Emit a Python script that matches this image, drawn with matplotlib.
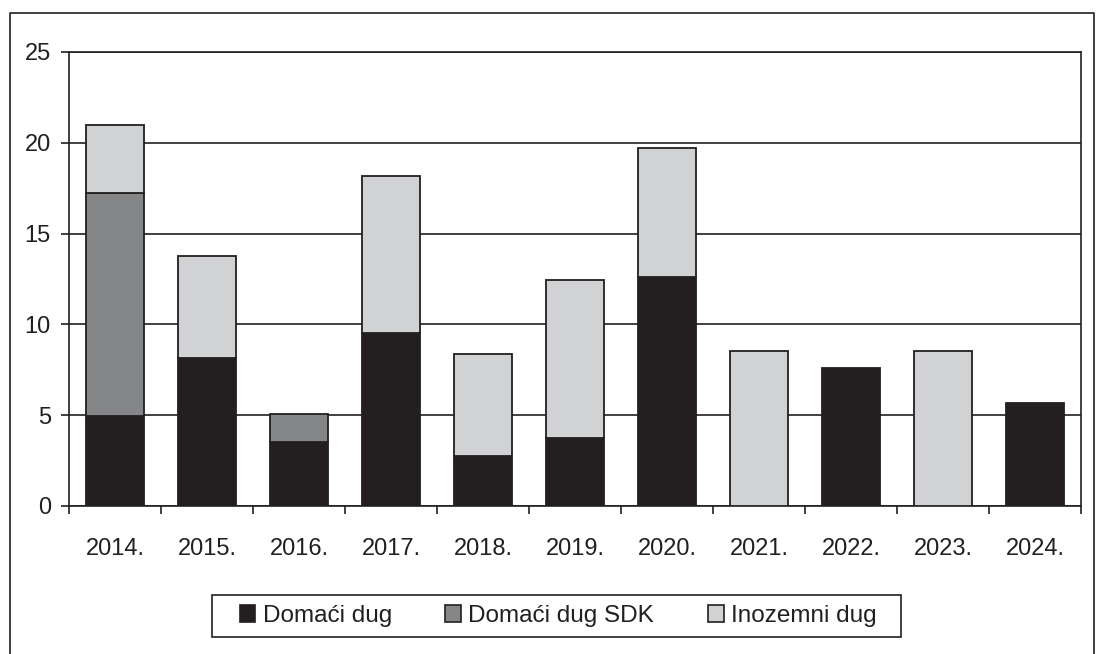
import matplotlib
matplotlib.use("Agg")
import matplotlib.pyplot as plt
from matplotlib.patches import Patch, Rectangle
from matplotlib.lines import Line2D
import numpy as np

years = ["2014.", "2015.", "2016.", "2017.", "2018.", "2019.", "2020.",
         "2021.", "2022.", "2023.", "2024."]
domaci_dug = [4.95, 8.15, 3.5, 9.5, 2.75, 3.75, 12.6, 0.0, 7.6, 0.0, 5.65]
domaci_dug_sdk = [12.28, 0.0, 1.57, 0.0, 0.0, 0.0, 0.0, 0.0, 0.0, 0.0, 0.0]
inozemni_dug = [3.77, 5.61, 0.0, 8.65, 5.62, 8.67, 7.11, 8.55, 0.0, 8.56, 0.0]
series_names = ["Domaći dug", "Domaći dug SDK", "Inozemni dug"]
y_ticks = [0, 5, 10, 15, 20, 25]

plt.rcParams['font.family'] = ['Liberation Sans', 'DejaVu Sans']
W, H = 1096, 654
fig = plt.figure(figsize=(W / 100, H / 100), dpi=100)

ax = fig.add_axes([69 / W, 1 - 506 / H, (1081 - 69) / W, (506 - 52) / H])

dark = "#231f20"
colors = ["#231f20", "#858688", "#d1d2d4"]
x = np.arange(len(years))
width = 0.62
bottom = np.zeros(len(years))
for vals, col in zip([domaci_dug, domaci_dug_sdk, inozemni_dug], colors):
    v = np.array(vals)
    mask = v > 0
    ax.bar(x[mask], v[mask], width, bottom=bottom[mask], color=col,
           edgecolor=dark, linewidth=1.3, zorder=3)
    bottom += v

ax.set_xlim(-0.5, len(years) - 0.5)
ax.set_ylim(0, 25)
ax.set_yticks(y_ticks)
ax.set_yticklabels([str(t) for t in y_ticks], fontsize=17, color=dark)
ax.yaxis.grid(True, color=dark, linewidth=1.2, zorder=1)
ax.set_axisbelow(True)

ax.set_xticks(x)
ax.set_xticklabels(years, fontsize=17, color=dark)
ax.set_xticks(np.arange(-0.5, len(years), 1.0), minor=True)
ax.tick_params(axis='x', which='major', length=0, pad=23)
ax.tick_params(axis='x', which='minor', length=6, width=1.2, color=dark, direction='out')
ax.tick_params(axis='y', length=6, width=1.2, color=dark, direction='out', pad=7)
for s in ax.spines.values():
    s.set_color(dark)
    s.set_linewidth(1.2)

# outer frame
frame = Line2D([9.5 / W, 9.5 / W, 1094 / W, 1094 / W],
               [0, 1 - 12.5 / H, 1 - 12.5 / H, 0],
               transform=fig.transFigure, color=dark, linewidth=1.2)
fig.add_artist(frame)

# legend box
box = Rectangle((212 / W, 1 - 637 / H), (901 - 212) / W, (637 - 595) / H,
                transform=fig.transFigure, facecolor='white', edgecolor=dark,
                linewidth=1.2, zorder=1)
fig.add_artist(box)

handles = [Patch(facecolor=c, edgecolor=dark, linewidth=1.2) for c in colors]
leg = fig.legend(handles, series_names, loc='center',
                 bbox_to_anchor=(558 / W, 1 - 616 / H), ncol=3,
                 frameon=False, fontsize=17.5,
                 handlelength=0.65, handleheight=0.65,
                 handletextpad=0.3, columnspacing=2.2, borderpad=0.3,
                 borderaxespad=0)
leg.set_zorder(2)
for t in leg.get_texts():
    t.set_color(dark)

fig.savefig("out.png", dpi=100)
